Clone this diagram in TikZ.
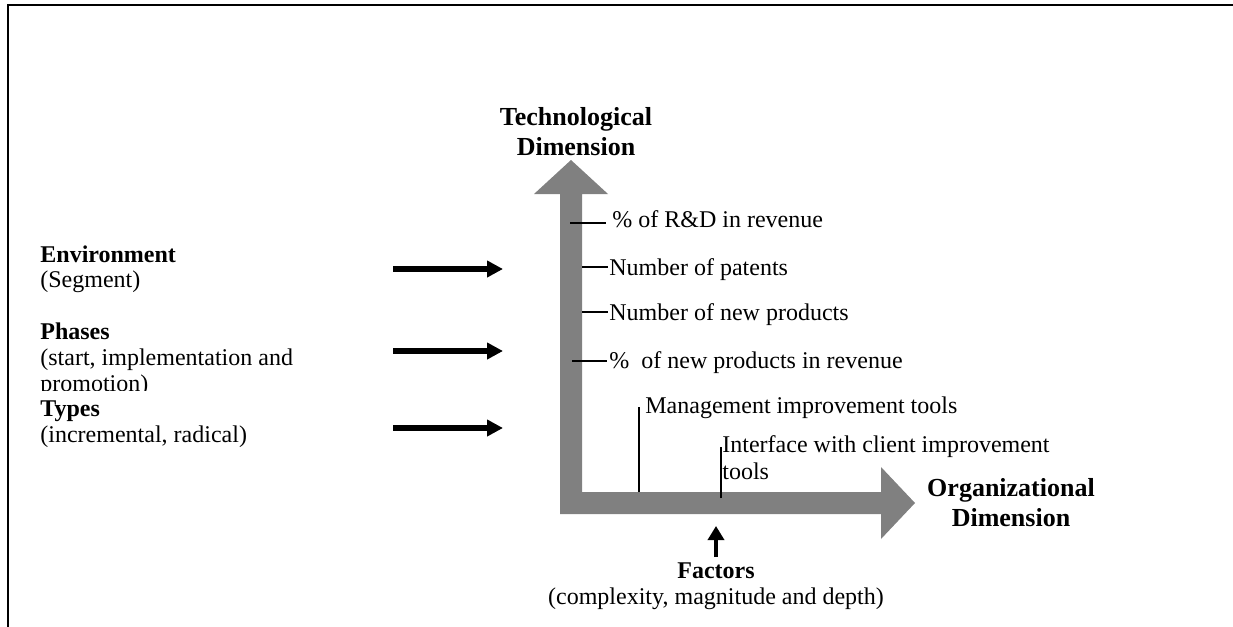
\documentclass[tikz,border=0pt]{standalone}
\usepackage{fontspec}
\setmainfont{Liberation Serif}
\usetikzlibrary{arrows.meta}
\definecolor{axisgray}{RGB}{128,128,128}
\begin{document}
\begin{tikzpicture}[x=0.5pt,y=-0.5pt,
  txt/.style={inner sep=0pt,anchor=base west,font=\fontsize{12}{13.5}\selectfont},
  btxt/.style={inner sep=0pt,anchor=base west,font=\fontsize{12}{13.5}\selectfont\bfseries},
  ctxt/.style={inner sep=0pt,anchor=base,font=\fontsize{12}{13.5}\selectfont},
  cbtxt/.style={inner sep=0pt,anchor=base,font=\fontsize{12}{13.5}\selectfont\bfseries},
  headtxt/.style={inner sep=0pt,anchor=base,font=\fontsize{13}{15}\selectfont\bfseries},
  tickline/.style={line width=0.75pt},
  inarrow/.style={line width=3pt,-{Triangle[length=8pt,width=8pt]}},
  uparrow/.style={line width=1.7pt,-{Triangle[length=7pt,width=8pt]}},
  axisshape/.style={fill=axisgray,draw=none}]
\useasboundingbox (0,0) rectangle (1233,627);

% frame
\draw[line width=1pt,line join=miter] (8,627) -- (8,5) -- (1233,5);

% grey L-shaped double axis arrow
\path[axisshape] (560,514) -- (560,194) -- (534,194) -- (571,160) -- (608,194)
  -- (582,194) -- (582,492) -- (881,492) -- (881,467) -- (915,503)
  -- (881,539) -- (881,514) -- cycle;

% axis headings
\node[headtxt] (tech1) at (576,125) {Technological};
\node[headtxt] (tech2) at (576,155) {Dimension};
\node[headtxt] (org1) at (1011,496) {Organizational};
\node[headtxt] (org2) at (1011,526) {Dimension};

% technological indicators
\node[txt] (rd) at (612,227) {\% of R\&D in revenue};
\node[txt] (pat) at (609,275) {Number of patents};
\node[txt] (newp) at (609,320) {Number of new products};
\node[txt] (pnew) at (609,368) {\%\ \ of new products in revenue};
\coordinate (rdA) at (570,223);
\coordinate (patA) at (582,267);
\coordinate (newpA) at (582,312);
\coordinate (pnewA) at (572,361);
\draw[tickline] (rdA) -- (606,223);
\draw[tickline] (patA) -- (608,267);
\draw[tickline] (newpA) -- (608,312);
\draw[tickline] (pnewA) -- (607,361);

% organizational indicators
\node[txt] (mgmt) at (645,413) {Management improvement tools};
\node[txt] (intf1) at (722,452) {Interface with client improvement};
\node[txt] (intf2) at (722,479) {tools};
\coordinate (mgmtA) at (639,492);
\coordinate (intfA) at (721,498);
\draw[tickline] (mgmtA) -- (639,407);
\draw[tickline] (intfA) -- (721,447);

% left side items
\node[btxt] (env) at (40,262) {Environment};
\node[txt] (seg) at (40,287) {(Segment)};
\node[btxt] (pha) at (40,339) {Phases};
\node[txt] (pha2) at (40,365) {(start, implementation and};
\begin{scope}
  \clip (0,370) rectangle (400,390);
  \node[txt] (pha3) at (40,391) {promotion)};
\end{scope}
\node[btxt] (typ) at (40,416) {Types};
\node[txt] (typ2) at (40,442) {(incremental, radical)};

\coordinate (a1s) at (393,269); \coordinate (a1e) at (503,269);
\coordinate (a2s) at (393,351); \coordinate (a2e) at (503,351);
\coordinate (a3s) at (393,428); \coordinate (a3e) at (503,428);
\draw[inarrow] (a1s) -- (a1e);
\draw[inarrow] (a2s) -- (a2e);
\draw[inarrow] (a3s) -- (a3e);

% factors
\node[cbtxt] (fac) at (716,578) {Factors};
\node[ctxt] (fac2) at (716,604) {(complexity, magnitude and depth)};
\coordinate (facS) at (716,557);
\coordinate (facE) at (716,526);
\draw[uparrow] (facS) -- (facE);
\end{tikzpicture}
\end{document}
